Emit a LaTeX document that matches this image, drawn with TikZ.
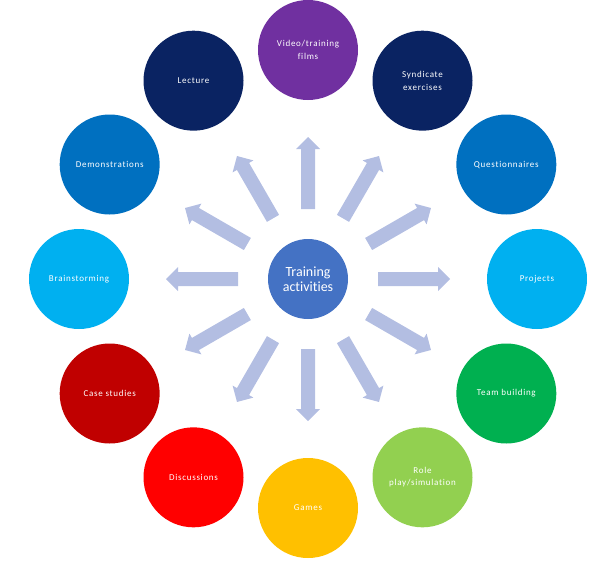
\documentclass[tikz,border=0pt]{standalone}
\usepackage{fontspec}
\usetikzlibrary{calc}
\setmainfont[Ligatures={NoCommon,NoDiscretionary}]{Carlito}
\newfontfamily\spacedfont[LetterSpace=8,Ligatures={NoCommon,NoDiscretionary}]{Carlito}
\definecolor{cpurple}{HTML}{7030A0}
\definecolor{cnavy}{HTML}{0A2362}
\definecolor{cblue}{HTML}{0070C0}
\definecolor{ccyan}{HTML}{00B0F0}
\definecolor{cgreen}{HTML}{00B050}
\definecolor{clime}{HTML}{92D050}
\definecolor{cgold}{HTML}{FFC000}
\definecolor{cred}{HTML}{FF0000}
\definecolor{cdarkred}{HTML}{C00000}
\definecolor{ccenter}{HTML}{4472C4}
\definecolor{carrow}{HTML}{B3BEE2}
\tikzset{
  outer/.style={circle, minimum size=100pt, inner sep=0pt, fill=#1, text=white,
    align=center, font=\spacedfont\fontsize{9}{12.5}\selectfont},
  centre/.style={circle, minimum size=80pt, inner sep=0pt, fill=ccenter, text=white,
    align=center, font=\fontsize{14}{15.5}\selectfont},
  blockarrow/.style={fill=carrow}
}
\begin{document}
\begin{tikzpicture}[x=1pt,y=1pt]
\useasboundingbox (0,0) rectangle (615,-562);
\coordinate (C) at (308,-279);
\node[centre] (ctr) at (C) {Training\\activities};
\foreach \a in {0,30,...,330}{
  \begin{scope}[shift={(C)}, rotate=\a]
    \fill[blockarrow] (70,-7) -- (130,-7) -- (130,-12) -- (142,0) -- (130,12) -- (130,7) -- (70,7) -- cycle;
  \end{scope}
}
\node[outer=cpurple]  (video) at ($(C)+(90:229)$) {Video/training\\films};
\node[outer=cnavy]    (synd)  at ($(C)+(60:229)$) {Syndicate\\exercises};
\node[outer=cblue]    (quest) at ($(C)+(30:229)$) {Questionnaires};
\node[outer=ccyan]    (proj)  at ($(C)+(0:229)$) {Projects};
\node[outer=cgreen]   (team)  at ($(C)+(-30:229)$) {Team building};
\node[outer=clime]    (role)  at ($(C)+(-60:229)$) {Role\\play/simulation};
\node[outer=cgold]    (games) at ($(C)+(-90:229)$) {Games};
\node[outer=cred]     (disc)  at ($(C)+(-120:229)$) {Discussions};
\node[outer=cdarkred] (case)  at ($(C)+(-150:229)$) {Case studies};
\node[outer=ccyan]    (brain) at ($(C)+(180:229)$) {Brainstorming};
\node[outer=cblue]    (demo)  at ($(C)+(150:229)$) {Demonstrations};
\node[outer=cnavy]    (lect)  at ($(C)+(120:229)$) {Lecture};
\end{tikzpicture}
\end{document}
